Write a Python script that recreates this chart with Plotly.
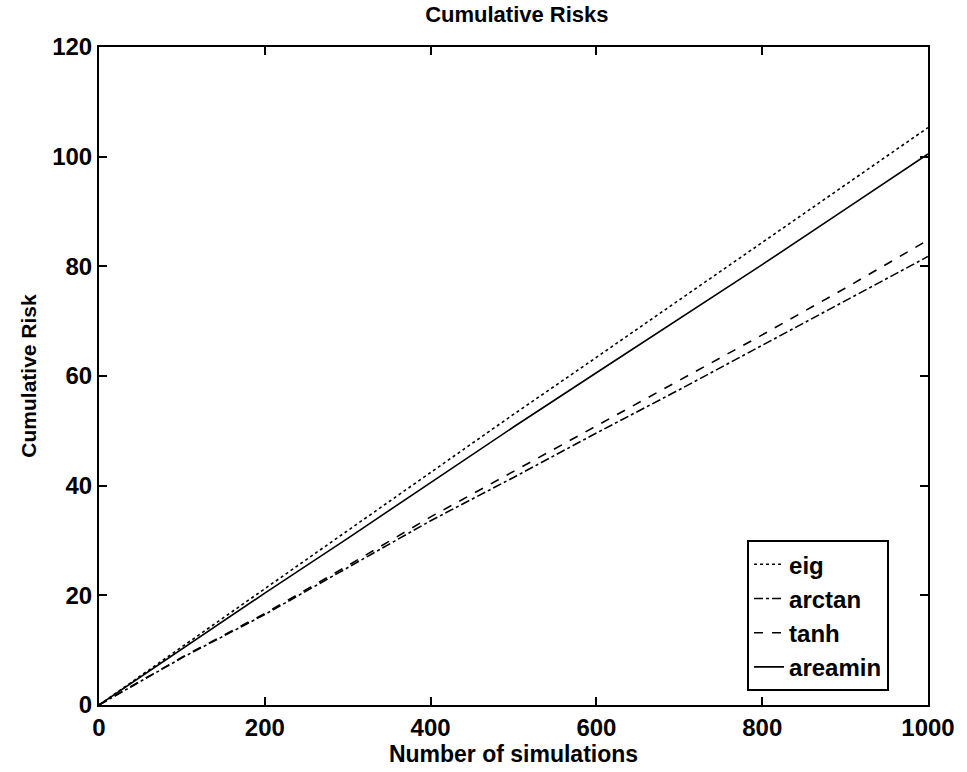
import plotly.graph_objects as go

sims = [0, 100, 200, 300, 400, 500, 600, 700, 800, 900, 1000]
eig = [0, 10.6, 21.1, 31.8, 42.4, 53.0, 63.4, 73.9, 84.3, 94.8, 105.3]
arctan = [0, 8.6, 16.5, 25.0, 33.6, 41.5, 49.6, 57.5, 65.6, 73.6, 81.8]
tanh = [0, 8.7, 16.7, 25.4, 34.3, 42.6, 51.0, 59.2, 67.5, 76.0, 84.8]
areamin = [0, 10.2, 20.4, 30.4, 40.6, 50.7, 60.6, 70.4, 80.3, 90.4, 100.5]

names = ["eig", "arctan", "tanh", "areamin"]
series = [eig, arctan, tanh, areamin]
dashes = ["dot", "dashdot", "dash", "solid"]

fig = go.Figure()
for n, s, d in zip(names, series, dashes):
    fig.add_trace(go.Scatter(x=sims, y=s, mode="lines", name=n,
                             line=dict(color="black", width=1.6, dash=d)))

font = "Liberation Sans, Arial, sans-serif"
axis_common = dict(showgrid=False, zeroline=False, showline=True, linecolor="black",
                   linewidth=2, mirror="ticks", ticks="inside", ticklen=8,
                   tickwidth=1.5, tickcolor="black",
                   tickfont=dict(family=font, size=24, color="black", weight="bold"))

fig.update_layout(
    width=967, height=772,
    paper_bgcolor="white", plot_bgcolor="white",
    margin=dict(l=99, r=31, t=47, b=67),
    title=dict(text="Cumulative Risks", x=0.5345, xanchor="center", y=0.982, yanchor="middle",
               font=dict(family=font, size=22, color="black", weight="bold")),
    xaxis=dict(range=[0, 1000], tickvals=[0, 200, 400, 600, 800, 1000],
               title=dict(text="Number of simulations", standoff=0,
                          font=dict(family=font, size=23, color="black", weight="bold")),
               **axis_common),
    yaxis=dict(range=[0, 120], tickvals=[0, 20, 40, 60, 80, 100, 120],
               title=dict(text="Cumulative Risk", standoff=10,
                          font=dict(family=font, size=21, color="black", weight="bold")),
               **axis_common),
    legend=dict(x=0.953, xanchor="right", y=0.021, yanchor="bottom",
                bordercolor="black", borderwidth=2, bgcolor="white",
                font=dict(family=font, size=24, color="black", weight="bold"),
                itemwidth=30, tracegroupgap=0),
    showlegend=True,
)

fig.write_html("out.html")
